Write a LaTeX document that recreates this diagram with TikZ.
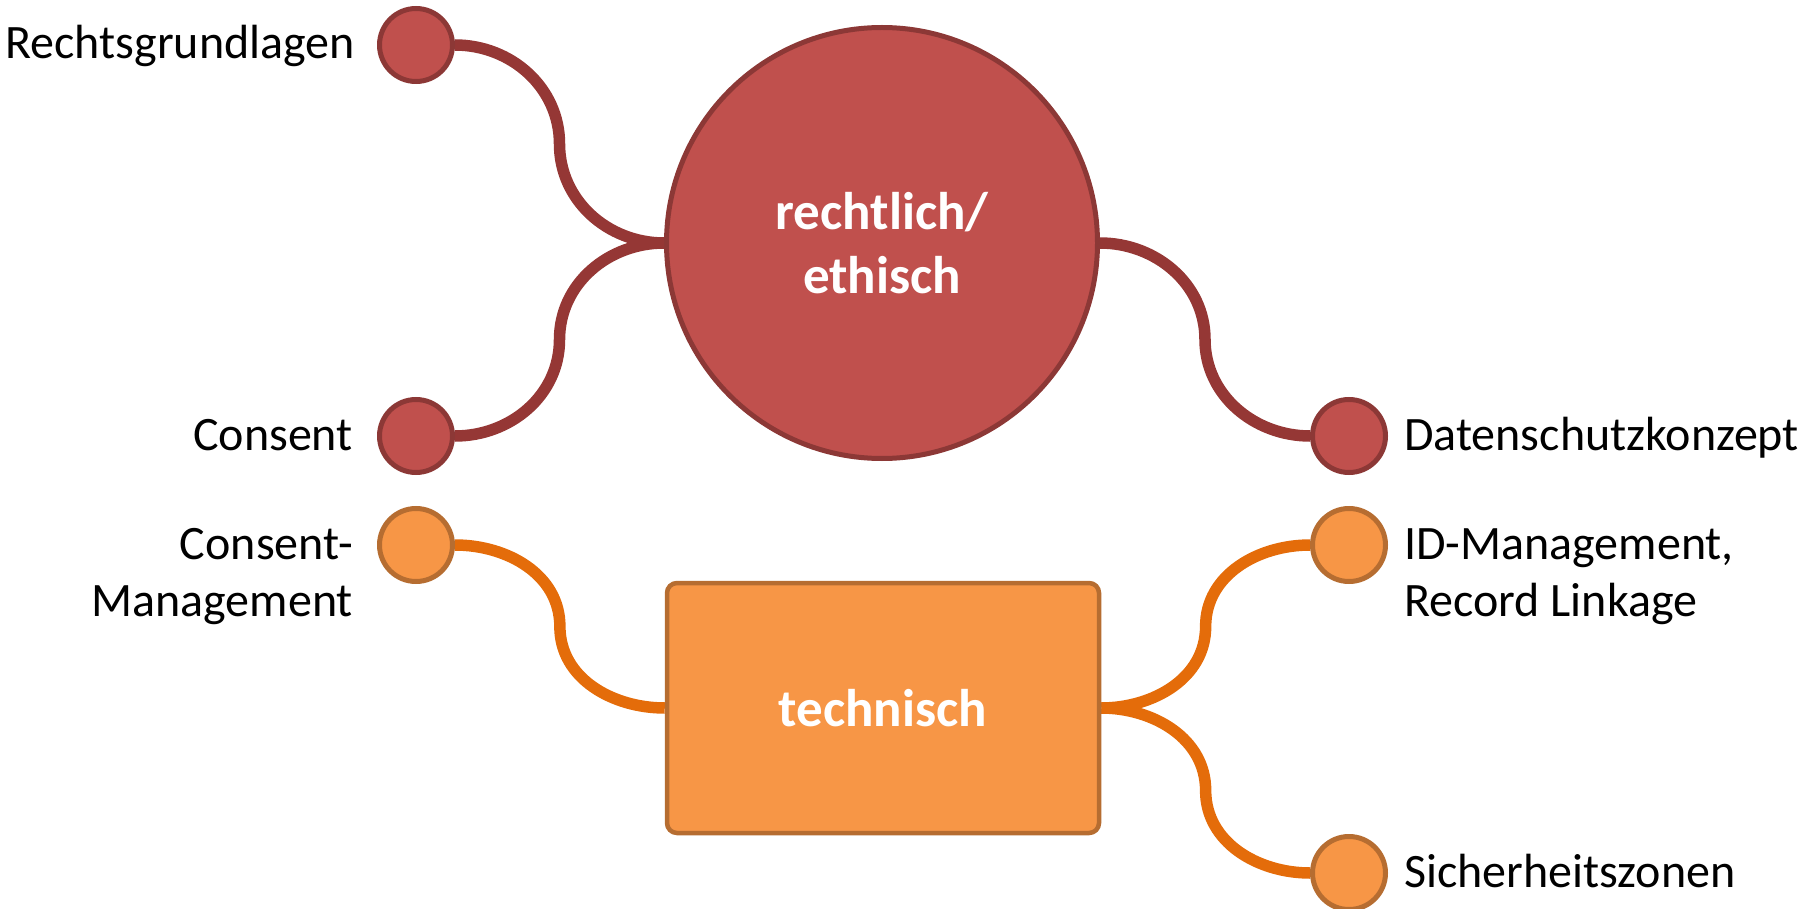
\documentclass[tikz,border=0pt]{standalone}
\usepackage{fontspec}
\setmainfont{Carlito}
\usetikzlibrary{backgrounds,calc}
\definecolor{redfill}{HTML}{C0504D}
\definecolor{redline}{HTML}{8C3836}
\definecolor{redconn}{HTML}{953735}
\definecolor{orfill}{HTML}{F79646}
\definecolor{orline}{HTML}{B66D31}
\definecolor{orconn}{HTML}{E46C0A}
\begin{document}
\begin{tikzpicture}[x=1pt,y=1pt,
  dot/.style={circle, minimum size=73pt, inner sep=0pt, line width=5pt},
  reddot/.style={dot, fill=redfill, draw=redline},
  ordot/.style={dot, fill=orfill, draw=orline},
  lbl/.style={font=\fontsize{48}{57}\selectfont, inner sep=0pt},
  conn/.style={line width=11.5pt},
  hub/.style={font=\fontsize{53}{64}\selectfont\bfseries, text=white, align=center}
]
\useasboundingbox (0,0) rectangle (1820,-909);
\node[hub, circle, minimum size=431pt, inner sep=0pt, line width=5pt, fill=redfill, draw=redline] (re) at (882,-243) {rechtlich/\\ethisch};
\node[hub, rectangle, rounded corners=10pt, minimum width=432pt, minimum height=250pt, line width=4.5pt, fill=orfill, draw=orline] (te) at (883,-708) {technisch};
\node[reddot] (r1) at (416,-45) {};
\node[reddot] (r2) at (416,-436) {};
\node[reddot] (r3) at (1349,-436) {};
\node[ordot] (o1) at (416,-545) {};
\node[ordot] (o2) at (1349,-545) {};
\node[ordot] (o3) at (1349,-873) {};
\node[lbl, anchor=base east] (l1) at ([xshift=-22pt, yshift=-14pt]r1.west) {Rechtsgrundlagen};
\node[lbl, anchor=base east] (l2) at ([xshift=-24pt, yshift=-14pt]r2.west) {Consent};
\node[lbl, anchor=base east] (l3) at ([xshift=-24pt, yshift=-14pt]o1.west) {\begin{tabular}[t]{@{}r@{}}Consent-\\Management\end{tabular}};
\node[lbl, anchor=base west] (l4) at ([xshift=16pt, yshift=-14pt]r3.east) {Datenschutzkonzept};
\node[lbl, anchor=base west] (l5) at ([xshift=16pt, yshift=-14pt]o2.east) {\begin{tabular}[t]{@{}l@{}}ID-Management,\\Record Linkage\end{tabular}};
\node[lbl, anchor=base west] (l6) at ([xshift=16pt, yshift=-14pt]o3.east) {Sicherheitszonen};
\begin{scope}[on background layer]
\draw[conn, redconn] (r1.east) to[out=0,in=90] ($(r1.east)!0.5!(re.west)$) to[out=-90,in=180] (re.west);
\draw[conn, redconn] (r2.east) to[out=0,in=-90] ($(r2.east)!0.5!(re.west)$) to[out=90,in=180] (re.west);
\draw[conn, redconn] (re.east) to[out=0,in=90] ($(re.east)!0.5!(r3.west)$) to[out=-90,in=180] (r3.west);
\draw[conn, orconn] (o1.east) to[out=0,in=90] ($(o1.east)!0.5!(te.west)$) to[out=-90,in=180] (te.west);
\draw[conn, orconn] (te.east) to[out=0,in=-90] ($(te.east)!0.5!(o2.west)$) to[out=90,in=180] (o2.west);
\draw[conn, orconn] (te.east) to[out=0,in=90] ($(te.east)!0.5!(o3.west)$) to[out=-90,in=180] (o3.west);
\end{scope}
\end{tikzpicture}
\end{document}
